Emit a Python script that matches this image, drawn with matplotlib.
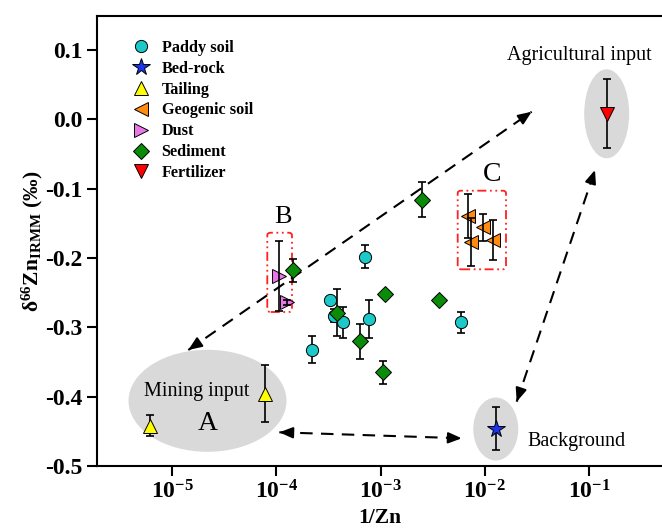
import numpy as np
import matplotlib
matplotlib.use('Agg')
import matplotlib.pyplot as plt
from matplotlib.patches import Ellipse, FancyBboxPatch
from matplotlib.ticker import FixedLocator, FuncFormatter, NullLocator

plt.rcParams['font.family'] = ['Liberation Serif', 'DejaVu Serif']
plt.rcParams['mathtext.fontset'] = 'custom'
plt.rcParams['mathtext.rm'] = 'Liberation Serif'
plt.rcParams['mathtext.bf'] = 'Liberation Serif:bold'
plt.rcParams['mathtext.it'] = 'Liberation Serif:italic'
plt.rcParams['axes.unicode_minus'] = False

# 1/Zn, delta66Zn and its error for every group
paddy_x = [7.13e-4, 3.29e-4, 3.60e-4, 4.31e-4, 7.80e-4, 2.20e-4, 5.94e-3]
paddy_y = [-0.198, -0.260, -0.283, -0.293, -0.288, -0.332, -0.293]
paddy_err = [0.017, 0.004, 0.010, 0.023, 0.028, 0.020, 0.015]

bedrock_x = [1.29e-2]
bedrock_y = [-0.446]
bedrock_err = [0.031]

tailing_x = [6.10e-6, 7.73e-5]
tailing_y = [-0.442, -0.396]
tailing_err = [0.015, 0.041]

geogenic_x = [6.82e-3, 7.36e-3, 9.51e-3, 1.20e-2]
geogenic_y = [-0.139, -0.177, -0.156, -0.174]
geogenic_err = [0.032, 0.034, 0.020, 0.029]

dust_x = [1.05e-4, 1.27e-4]
dust_y = [-0.226, -0.264]
dust_err = [0.051, 0.004]

sediment_x = [1.44e-4, 3.82e-4, 6.30e-4, 1.05e-3, 1.09e-3, 2.47e-3, 3.66e-3]
sediment_y = [-0.218, -0.279, -0.320, -0.365, -0.252, -0.116, -0.260]
sediment_err = [0.017, 0.034, 0.025, 0.017, 0.004, 0.025, 0.004]

fertilizer_x = [0.148]
fertilizer_y = [0.008]
fertilizer_err = [0.050]

# name, x, y, err, marker, color, errorbar on top of marker
groups = [
    ('Paddy soil', paddy_x, paddy_y, paddy_err, 'o', '#1cc8c8', False),
    ('Bed-rock', bedrock_x, bedrock_y, bedrock_err, '*', '#1a35f0', False),
    ('Tailing', tailing_x, tailing_y, tailing_err, '^', '#ffff00', False),
    ('Geogenic soil', geogenic_x, geogenic_y, geogenic_err, '<', '#ff8c10', True),
    ('Dust', dust_x, dust_y, dust_err, '>', '#e878e8', True),
    ('Sediment', sediment_x, sediment_y, sediment_err, 'D', '#0a8c0a', False),
    ('Fertilizer', fertilizer_x, fertilizer_y, fertilizer_err, 'v', '#ff0000', False),
]
marker_sizes = {'o': 8.8, '*': 13, '^': 9.5, '<': 9.5, '>': 9.5, 'D': 8, 'v': 9.5}

x_ticks = [1e-5, 1e-4, 1e-3, 1e-2, 1e-1]
y_ticks = [-0.5, -0.4, -0.3, -0.2, -0.1, 0.0, 0.1]

fig = plt.figure(figsize=(6.62, 5.30), dpi=100)
ax = fig.add_axes([97 / 662, 64 / 530, 565 / 662, 450 / 530])

ax.set_xscale('log')
ax.set_xlim(1.9e-6, 0.5)
ax.set_ylim(-0.5, 0.149)

# grey source fields
for cx, cy, w, h in [(0.1956, 0.1449, 0.2796, 0.2267),
                     (0.9021, 0.7827, 0.0796, 0.1978),
                     (0.7058, 0.0822, 0.0796, 0.1400)]:
    ax.add_patch(Ellipse((cx, cy), w, h, transform=ax.transAxes,
                         facecolor='#d9d9d9', edgecolor='none', zorder=1))

# red dash-dot boxes B and C
for x0, y0, x1, y1 in [(0.3014, 0.3422, 0.3451, 0.5184),
                       (0.6384, 0.4371, 0.7239, 0.6118)]:
    ax.add_patch(FancyBboxPatch((x0, y0), x1 - x0, y1 - y0,
                                boxstyle='round,pad=0,rounding_size=0.006',
                                transform=ax.transAxes, facecolor='none',
                                edgecolor='#ff2020', linewidth=1.3,
                                linestyle=(0, (5, 2, 1, 2, 1, 2)), zorder=2))

# dashed double arrows
for (xa, ya), (xb, yb) in [((0.1616, 0.2578), (0.7694, 0.7873)),
                           ((0.3227, 0.0749), (0.6455, 0.0616)),
                           ((0.7428, 0.1429), (0.8814, 0.6578))]:
    ax.plot([xa, xb], [ya, yb], transform=ax.transAxes, color='k',
            linewidth=1.5, dashes=(6, 4), zorder=2)
    for (p, q) in [((xa, ya), (xb, yb)), ((xb, yb), (xa, ya))]:
        d = np.array(q) - np.array(p)
        start = np.array(q) - d / np.hypot(*d) * 0.02
        ax.annotate('', xy=q, xytext=start, xycoords='axes fraction',
                    textcoords='axes fraction',
                    arrowprops=dict(arrowstyle='-|>,head_length=0.8,head_width=0.33',
                                    color='k', linewidth=1.5,
                                    shrinkA=0, shrinkB=0), zorder=2)

for name, xs, ys, errs, mk, col, bar_top in groups:
    ax.errorbar(xs, ys, yerr=errs, fmt='none', ecolor='k', elinewidth=1.2,
                capsize=3.2, capthick=1.2, zorder=5 if bar_top else 3)
    ax.plot(xs, ys, linestyle='none', marker=mk, markersize=marker_sizes[mk],
            markerfacecolor=col, markeredgecolor='k', markeredgewidth=0.7,
            label=name, zorder=4)

txt = dict(transform=ax.transAxes, ha='center', va='center', zorder=6)
ax.text(0.854, 0.9133, 'Agricultural input', fontsize=14.5, **txt)
ax.text(0.1761, 0.1651, 'Mining input', fontsize=14.5, **txt)
ax.text(0.1952, 0.0949, 'A', fontsize=20, **txt)
ax.text(0.8478, 0.0540, 'Background', fontsize=14.5, **txt)
ax.text(0.3297, 0.5540, 'B', fontsize=19, **txt)
ax.text(0.6986, 0.6467, 'C', fontsize=20, **txt)

leg = ax.legend(loc='upper left', bbox_to_anchor=(0.064, 0.947), frameon=False,
                prop={'weight': 'bold', 'size': 11.7}, handlelength=1.0,
                handletextpad=0.75, labelspacing=0.3, borderaxespad=0,
                borderpad=0)

ax.xaxis.set_major_locator(FixedLocator(x_ticks))
ax.xaxis.set_minor_locator(NullLocator())
ax.xaxis.set_major_formatter(FuncFormatter(
    lambda v, pos: r'$\mathbf{10^{%d}}$' % round(np.log10(v))))
ax.yaxis.set_major_locator(FixedLocator(y_ticks))
ax.yaxis.set_major_formatter(FuncFormatter(lambda v, pos: '%.1f' % v))

ax.tick_params(direction='out', length=7, width=1.5, labelsize=17)
for lab in ax.get_yticklabels():
    lab.set_fontweight('bold')
    lab.set_fontsize(17)

for s in ['left', 'bottom', 'top']:
    ax.spines[s].set_linewidth(1.5)
ax.spines['right'].set_visible(False)

ax.set_xlabel('1/Zn', fontsize=15.5, fontweight='bold', labelpad=3)
ax.set_ylabel(r'$\mathbf{\delta^{66}Zn_{IRMM}}$ (‰)', fontsize=15.5,
              fontweight='bold', labelpad=0)

fig.savefig('out.png', dpi=100)
